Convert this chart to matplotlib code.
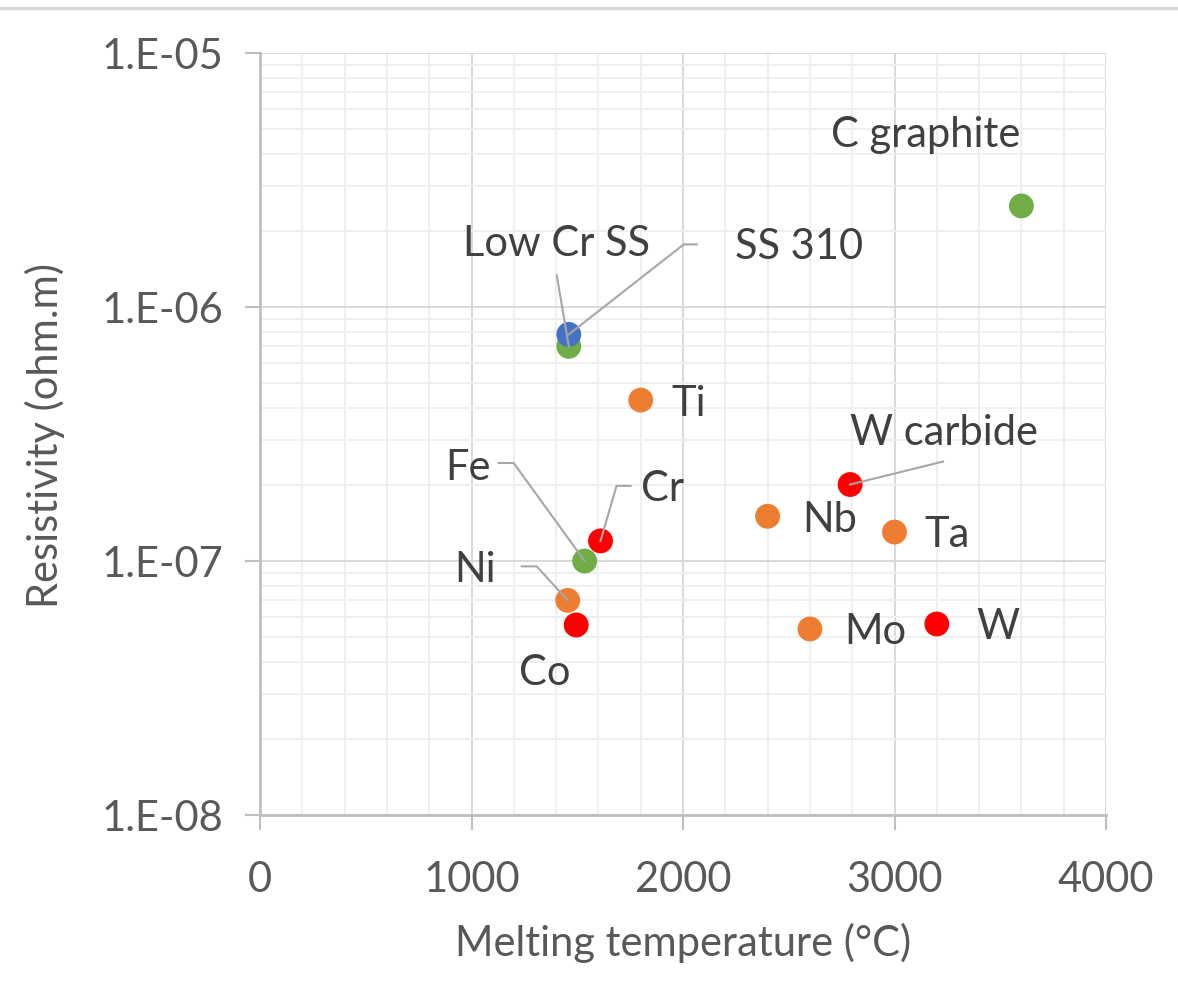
import matplotlib
matplotlib.use("Agg")
import matplotlib.pyplot as plt
from matplotlib.ticker import FixedLocator, MultipleLocator, LogLocator, NullFormatter
from matplotlib.lines import Line2D

plt.rcParams['font.family'] = ['Lato', 'DejaVu Sans']

# Data
names = ["C graphite", "Low Cr SS", "SS 310", "Ti", "W carbide", "Nb", "Ta",
         "Cr", "Fe", "Ni", "Co", "Mo", "W"]
melt_temp = [3600, 1460, 1460, 1800, 2790, 2400, 3000, 1610, 1535, 1455, 1495, 2600, 3200]
resistivity = [2.5e-6, 7.0e-7, 7.8e-7, 4.3e-7, 2.0e-7, 1.5e-7, 1.3e-7,
               1.2e-7, 1.0e-7, 7.0e-8, 5.6e-8, 5.4e-8, 5.65e-8]
groups = ["green", "green", "blue", "orange", "red", "orange", "orange",
          "red", "green", "orange", "red", "orange", "red"]
x_ticks = [0, 1000, 2000, 3000, 4000]
y_ticks = [1e-8, 1e-7, 1e-6, 1e-5]
y_tick_labels = ["1.E-08", "1.E-07", "1.E-06", "1.E-05"]

colors = {"green": "#70ad47", "blue": "#4472c4", "orange": "#ed7d31", "red": "#ff0000"}

# label offsets in pixels (dx, dy; dy up) relative to point; leader line vertices
label_pos = {
    "C graphite": ((-96, 72), None),
    "Low Cr SS": ((-12, 103), [(-12, 71)]),
    "SS 310": ((230, 88), [(128, 90), (115, 90)]),
    "Ti": ((48, -3), None),
    "W carbide": ((94, 53), [(93, 23)]),
    "Nb": ((62, -3), None),
    "Ta": ((53, -2), None),
    "Cr": ((62, 53), [(30, 55), (16, 55)]),
    "Fe": ((-117, 94), [(-86, 98), (-71, 98)]),
    "Ni": ((-93, 31), [(-46, 34), (-31, 34)]),
    "Co": ((-31, -47), None),
    "Mo": ((65, -2), None),
    "W": ((61, -2), None),
}

FS = 30
W, H = 1178, 1003
fig = plt.figure(figsize=(W / 100, H / 100), dpi=100)
ax = fig.add_axes([260 / W, 1 - 816 / H, (1106 - 260) / W, (816 - 54) / H])

ax.set_yscale("log")
ax.set_xlim(0, 4000)
ax.set_ylim(1e-8, 1e-5)

ax.xaxis.set_major_locator(FixedLocator(x_ticks))
ax.xaxis.set_minor_locator(MultipleLocator(200))
ax.yaxis.set_major_locator(FixedLocator(y_ticks))
ax.set_yticklabels(y_tick_labels)
ax.yaxis.set_minor_locator(LogLocator(base=10, subs=range(2, 10)))
ax.yaxis.set_minor_formatter(NullFormatter())

ax.grid(which="major", color="#d9d9d9", linewidth=1.4)
ax.grid(which="minor", color="#efefef", linewidth=1.4)
ax.set_axisbelow(True)

for s in ["top", "right"]:
    ax.spines[s].set_visible(False)
for s in ["left", "bottom"]:
    ax.spines[s].set_color("#bfbfbf")
    ax.spines[s].set_linewidth(2)

ax.tick_params(which="major", length=10.5, width=1.5, color="#bfbfbf",
               labelsize=FS, labelcolor="#595959")
ax.tick_params(axis="x", which="major", pad=22)
ax.tick_params(axis="y", which="major", pad=16)
ax.tick_params(which="minor", length=0)

ax.set_xlabel("Melting temperature (°C)", fontsize=FS, color="#595959", labelpad=17)
ax.set_ylabel("Resistivity (ohm.m)", fontsize=FS, color="#595959", labelpad=26)

for n, x, y, g in zip(names, melt_temp, resistivity, groups):
    ax.scatter([x], [y], s=320, color=colors[g], edgecolors="none", zorder=3)

# labels + leader lines (positions computed in display pixel offsets)
fig.canvas.draw()
trans = ax.transData
inv = ax.transData.inverted()
for n, x, y in zip(names, melt_temp, resistivity):
    (dx, dy), leader = label_pos[n]
    px, py = trans.transform((x, y))
    tx, ty = inv.transform((px + dx, py + dy))
    ax.text(tx, ty, n, fontsize=FS, color="#404040", ha="center", va="center", zorder=5)
    if leader:
        pts = [(px + ex, py + ey) for ex, ey in leader] + [(px, py)]
        data_pts = [inv.transform(p) for p in pts]
        ax.plot([p[0] for p in data_pts], [p[1] for p in data_pts],
                color="#a6a6a6", linewidth=1.5, zorder=4)

# chart area top border
fig.add_artist(Line2D([0, 1], [1 - 9 / H, 1 - 9 / H], transform=fig.transFigure,
                      color="#d9d9d9", linewidth=2.5))

fig.savefig("out.png", dpi=100, facecolor="white")
